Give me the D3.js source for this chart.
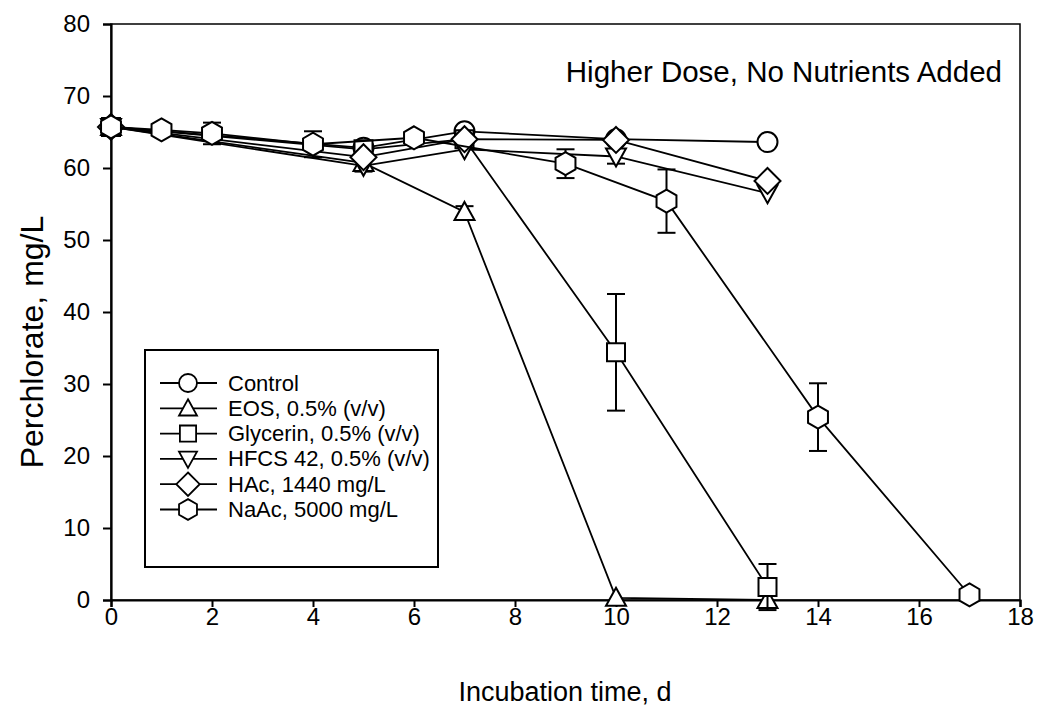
<!DOCTYPE html>
<html>
<head>
<meta charset="utf-8">
<script src="https://cdn.jsdelivr.net/npm/d3@7"></script>
<style>
  html, body { margin: 0; padding: 0; background: #fff; }
  svg { display: block; font-family: "Liberation Sans", Arial, Helvetica, sans-serif; }
</style>
</head>
<body>
<svg id="chart" width="1041" height="706"></svg>
<script>
// ---- data ----
const seriesNames = ["Control", "EOS, 0.5% (v/v)", "Glycerin, 0.5% (v/v)", "HFCS 42, 0.5% (v/v)", "HAc, 1440 mg/L", "NaAc, 5000 mg/L"];
const daysMain = [0, 5, 7, 10, 13];
const controlVals = [65.7, 62.8, 65.1, 64.0, 63.6];
const eosVals = [65.7, 60.7, 53.9, 0.3, 0.0];
const eosErr = [0, 0, 0.8, 0, 0];
const glycerinVals = [65.7, 62.6, 64.0, 34.4, 1.8];
const glycerinErr = [0, 0.6, 0, 8.1, 3.2];
const hfcsVals = [65.7, 60.3, 62.6, 61.6, 56.5];
const hfcsErr = [0, 0.8, 0, 1.0, 0];
const hacVals = [65.7, 61.5, 64.0, 63.9, 58.2];
const naacDays = [0, 1, 2, 4, 6, 9, 11, 14, 17];
const naacVals = [65.7, 65.3, 64.8, 63.3, 64.2, 60.6, 55.4, 25.4, 0.7];
const naacErr = [0, 0, 1.5, 1.8, 0, 2.0, 4.4, 4.7, 0];
const xTicks = [0, 2, 4, 6, 8, 10, 12, 14, 16, 18];
const yTicks = [0, 10, 20, 30, 40, 50, 60, 70, 80];
const titleText = "Higher Dose, No Nutrients Added";
const xLabel = "Incubation time, d";
const yLabel = "Perchlorate, mg/L";

const zeros = daysMain.map(() => 0);
const series = [
  { name: seriesNames[0], days: daysMain, vals: controlVals, err: zeros, shape: "circle" },
  { name: seriesNames[1], days: daysMain, vals: eosVals, err: eosErr, shape: "triangleUp" },
  { name: seriesNames[2], days: daysMain, vals: glycerinVals, err: glycerinErr, shape: "square" },
  { name: seriesNames[3], days: daysMain, vals: hfcsVals, err: hfcsErr, shape: "triangleDown" },
  { name: seriesNames[4], days: daysMain, vals: hacVals, err: zeros, shape: "diamond" },
  { name: seriesNames[5], days: naacDays, vals: naacVals, err: naacErr, shape: "hexagon" }
];

// ---- layout ----
const L = 111, R = 1020, T = 24, B = 600;
const svg = d3.select("#chart");
const x = d3.scaleLinear().domain([0, 18]).range([L, R]);
const y = d3.scaleLinear().domain([0, 80]).range([B, T]);

function shapePath(shape) {
  switch (shape) {
    case "circle": return "M10,0A10,10 0 1,1 -10,0A10,10 0 1,1 10,0Z";
    case "square": return "M-9,-9H9V9H-9Z";
    case "triangleUp": return "M0,-10L10,8H-10Z";
    case "triangleDown": return "M0,10L10,-8H-10Z";
    case "diamond": return "M0,-13L13,0L0,13L-13,0Z";
    case "hexagon": {
      const r = 11.5;
      const pts = d3.range(6).map(i => {
        const a = Math.PI / 3 * i - Math.PI / 2;
        return [r * Math.cos(a), r * Math.sin(a)];
      });
      return "M" + pts.map(p => p.join(",")).join("L") + "Z";
    }
  }
}

// frame (top & right)
svg.append("rect").attr("x", L).attr("y", T).attr("width", R - L).attr("height", B - T)
  .attr("fill", "none").attr("stroke", "#000").attr("stroke-width", 1.5);

// axes
const yAxis = svg.append("g").attr("transform", `translate(${L},0)`)
  .call(d3.axisLeft(y).tickValues(yTicks).tickSize(8).tickPadding(13).tickFormat(d3.format("d")));
const xAxis = svg.append("g").attr("transform", `translate(0,${B})`)
  .call(d3.axisBottom(x).tickValues(xTicks).tickSize(7).tickPadding(-2).tickFormat(d3.format("d")));
[yAxis, xAxis].forEach(g => {
  g.select(".domain").attr("stroke-width", 2.2);
  g.selectAll(".tick line").attr("stroke-width", 2);
  g.selectAll(".tick text").attr("font-size", 24).attr("fill", "#000")
    .style("font-family", "'Liberation Sans', Arial, sans-serif");
});
xAxis.selectAll(".tick text").attr("dy", "0.85em");

// axis labels
svg.append("text").attr("x", 565).attr("y", 701).attr("text-anchor", "middle")
  .attr("font-size", 27).text(xLabel);
svg.append("text").attr("transform", `translate(43,${(T + B) / 2 + 30}) rotate(-90)`)
  .attr("text-anchor", "middle").attr("font-size", 32).text(yLabel);

// title
svg.append("text").attr("x", 1002).attr("y", 82).attr("text-anchor", "end")
  .attr("font-size", 29.5).text(titleText);

// series
const line = d3.line().x(d => x(d.t)).y(d => y(d.v));
series.forEach(s => {
  const pts = s.days.map((t, i) => ({ t, v: s.vals[i], e: s.err[i] }));
  const g = svg.append("g");
  g.append("path").attr("d", line(pts)).attr("fill", "none").attr("stroke", "#000").attr("stroke-width", 1.8);
  pts.filter(p => p.e > 0).forEach(p => {
    const cx = x(p.t);
    g.append("line").attr("x1", cx).attr("x2", cx).attr("y1", y(p.v + p.e)).attr("y2", y(p.v - p.e))
      .attr("stroke", "#000").attr("stroke-width", 2);
    [p.v + p.e, p.v - p.e].forEach(v => {
      g.append("line").attr("x1", cx - 9).attr("x2", cx + 9).attr("y1", y(v)).attr("y2", y(v))
        .attr("stroke", "#000").attr("stroke-width", 2);
    });
  });
  g.selectAll("path.m").data(pts).enter().append("path").attr("class", "m")
    .attr("d", shapePath(s.shape))
    .attr("transform", d => `translate(${x(d.t)},${y(d.v)})`)
    .attr("fill", "#fff").attr("stroke", "#000").attr("stroke-width", 2);
});

// legend
const lg = svg.append("g");
lg.append("rect").attr("x", 145).attr("y", 350).attr("width", 293).attr("height", 217)
  .attr("fill", "#fff").attr("stroke", "#000").attr("stroke-width", 2);
series.forEach((s, i) => {
  const yy = 383 + i * 25.3;
  lg.append("line").attr("x1", 160).attr("x2", 217).attr("y1", yy).attr("y2", yy)
    .attr("stroke", "#000").attr("stroke-width", 1.8);
  lg.append("path").attr("d", shapePath(s.shape))
    .attr("transform", `translate(188,${yy}) scale(0.9)`)
    .attr("fill", "#fff").attr("stroke", "#000").attr("stroke-width", 2);
  lg.append("text").attr("x", 228).attr("y", yy + 7.5).attr("font-size", 22).text(s.name);
});
</script>
</body>
</html>
